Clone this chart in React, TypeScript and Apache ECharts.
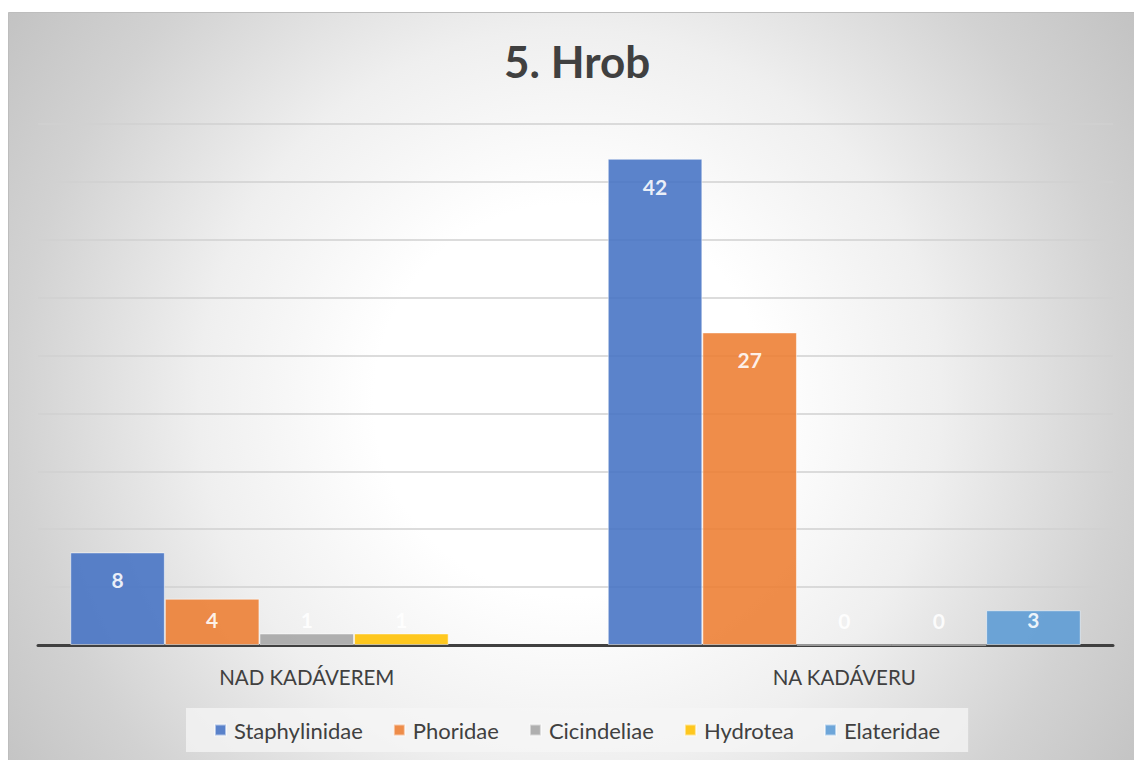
import React, { useEffect, useRef } from "react";
import * as echarts from "echarts";

const titleText = "5. Hrob";
const categories = ["NAD KADÁVEREM", "NA KADÁVERU"];
const seriesNames = ["Staphylinidae", "Phoridae", "Cicindeliae", "Hydrotea", "Elateridae"];
const staphylinidae = [8, 42];
const phoridae = [4, 27];
const cicindeliae = [1, 0];
const hydrotea = [1, 0];
const elateridae = [null, 3];
const colors = ["#4472C4", "#ED7D31", "#A5A5A5", "#FFC000", "#5B9BD5"];
const yMax = 45;
const yInterval = 5;

const FONT = "Lato";

export default function App() {
  const ref = useRef<HTMLDivElement>(null);
  useEffect(() => {
    if (!ref.current) return;
    const chart = echarts.init(ref.current, null, { renderer: "svg" });
    const allData = [staphylinidae, phoridae, cicindeliae, hydrotea, elateridae];
    const series = seriesNames.map((name, i) => ({
      name,
      type: "bar",
      barGap: "0%",
      barCategoryGap: "12%",
      itemStyle: {
        color: colors[i],
        opacity: 0.88,
        borderColor: "rgba(255,255,255,0.6)",
        borderWidth: 1,
      },
      data: allData[i].map((v) =>
        v === null
          ? null
          : {
              value: v,
              label:
                v <= 4
                  ? { position: "insideBottom", distance: 15 }
                  : { position: "insideTop", distance: 17 },
            }
      ),
      label: {
        show: true,
        color: "#ffffff",
        fontFamily: FONT,
        fontWeight: "bold",
        fontSize: 21,
      },
    }));
    chart.setOption({
      animation: false,
      title: {
        text: titleText,
        left: 504,
        top: 39,
        padding: 0,
        textStyle: { fontFamily: FONT, fontWeight: "bold", fontSize: 44, color: "#404040" },
      },
      graphic: [
        {
          type: "rect",
          z: -10,
          silent: true,
          shape: { x: 8.5, y: 12.5, width: 1140, height: 760 },
          style: {
            fill: {
              type: "radial",
              global: true,
              x: 570,
              y: 400,
              r: 700,
              colorStops: [
                { offset: 0, color: "#ffffff" },
                { offset: 0.28, color: "#ffffff" },
                { offset: 0.53, color: "#efefef" },
                { offset: 0.79, color: "#d2d2d2" },
                { offset: 0.96, color: "#c4c4c4" },
                { offset: 1, color: "#c2c2c2" },
              ],
            },
            stroke: "#bdbdbd",
            lineWidth: 1,
          },
        },
      ],
      legend: {
        bottom: 8,
        left: 186,
        data: seriesNames,
        icon: "rect",
        itemWidth: 11,
        itemHeight: 11,
        itemGap: 30,
        padding: [11, 28],
        backgroundColor: "rgba(245,245,245,0.75)",
        textStyle: { fontFamily: FONT, fontSize: 22, color: "#404040", padding: [0, 0, 0, 3] },
      },
      grid: { left: 38, right: 21, top: 124, bottom: 115, containLabel: false },
      xAxis: {
        type: "category",
        data: categories,
        axisLine: { lineStyle: { color: "#404040", width: 3 } },
        axisTick: { show: false },
        axisLabel: { color: "#404040", fontFamily: FONT, fontSize: 20.5, margin: 21 },
      },
      yAxis: {
        type: "value",
        min: 0,
        max: yMax,
        interval: yInterval,
        axisLabel: { show: false },
        axisLine: { show: false },
        axisTick: { show: false },
        splitLine: { lineStyle: { color: "#d0d0d0", width: 1.5 } },
      },
      series,
    });
    return () => chart.dispose();
  }, []);
  return (
    <div
      ref={ref}
      style={{ position: "absolute", left: 0, top: 0, width: 1134, height: 760 }}
    />
  );
}
